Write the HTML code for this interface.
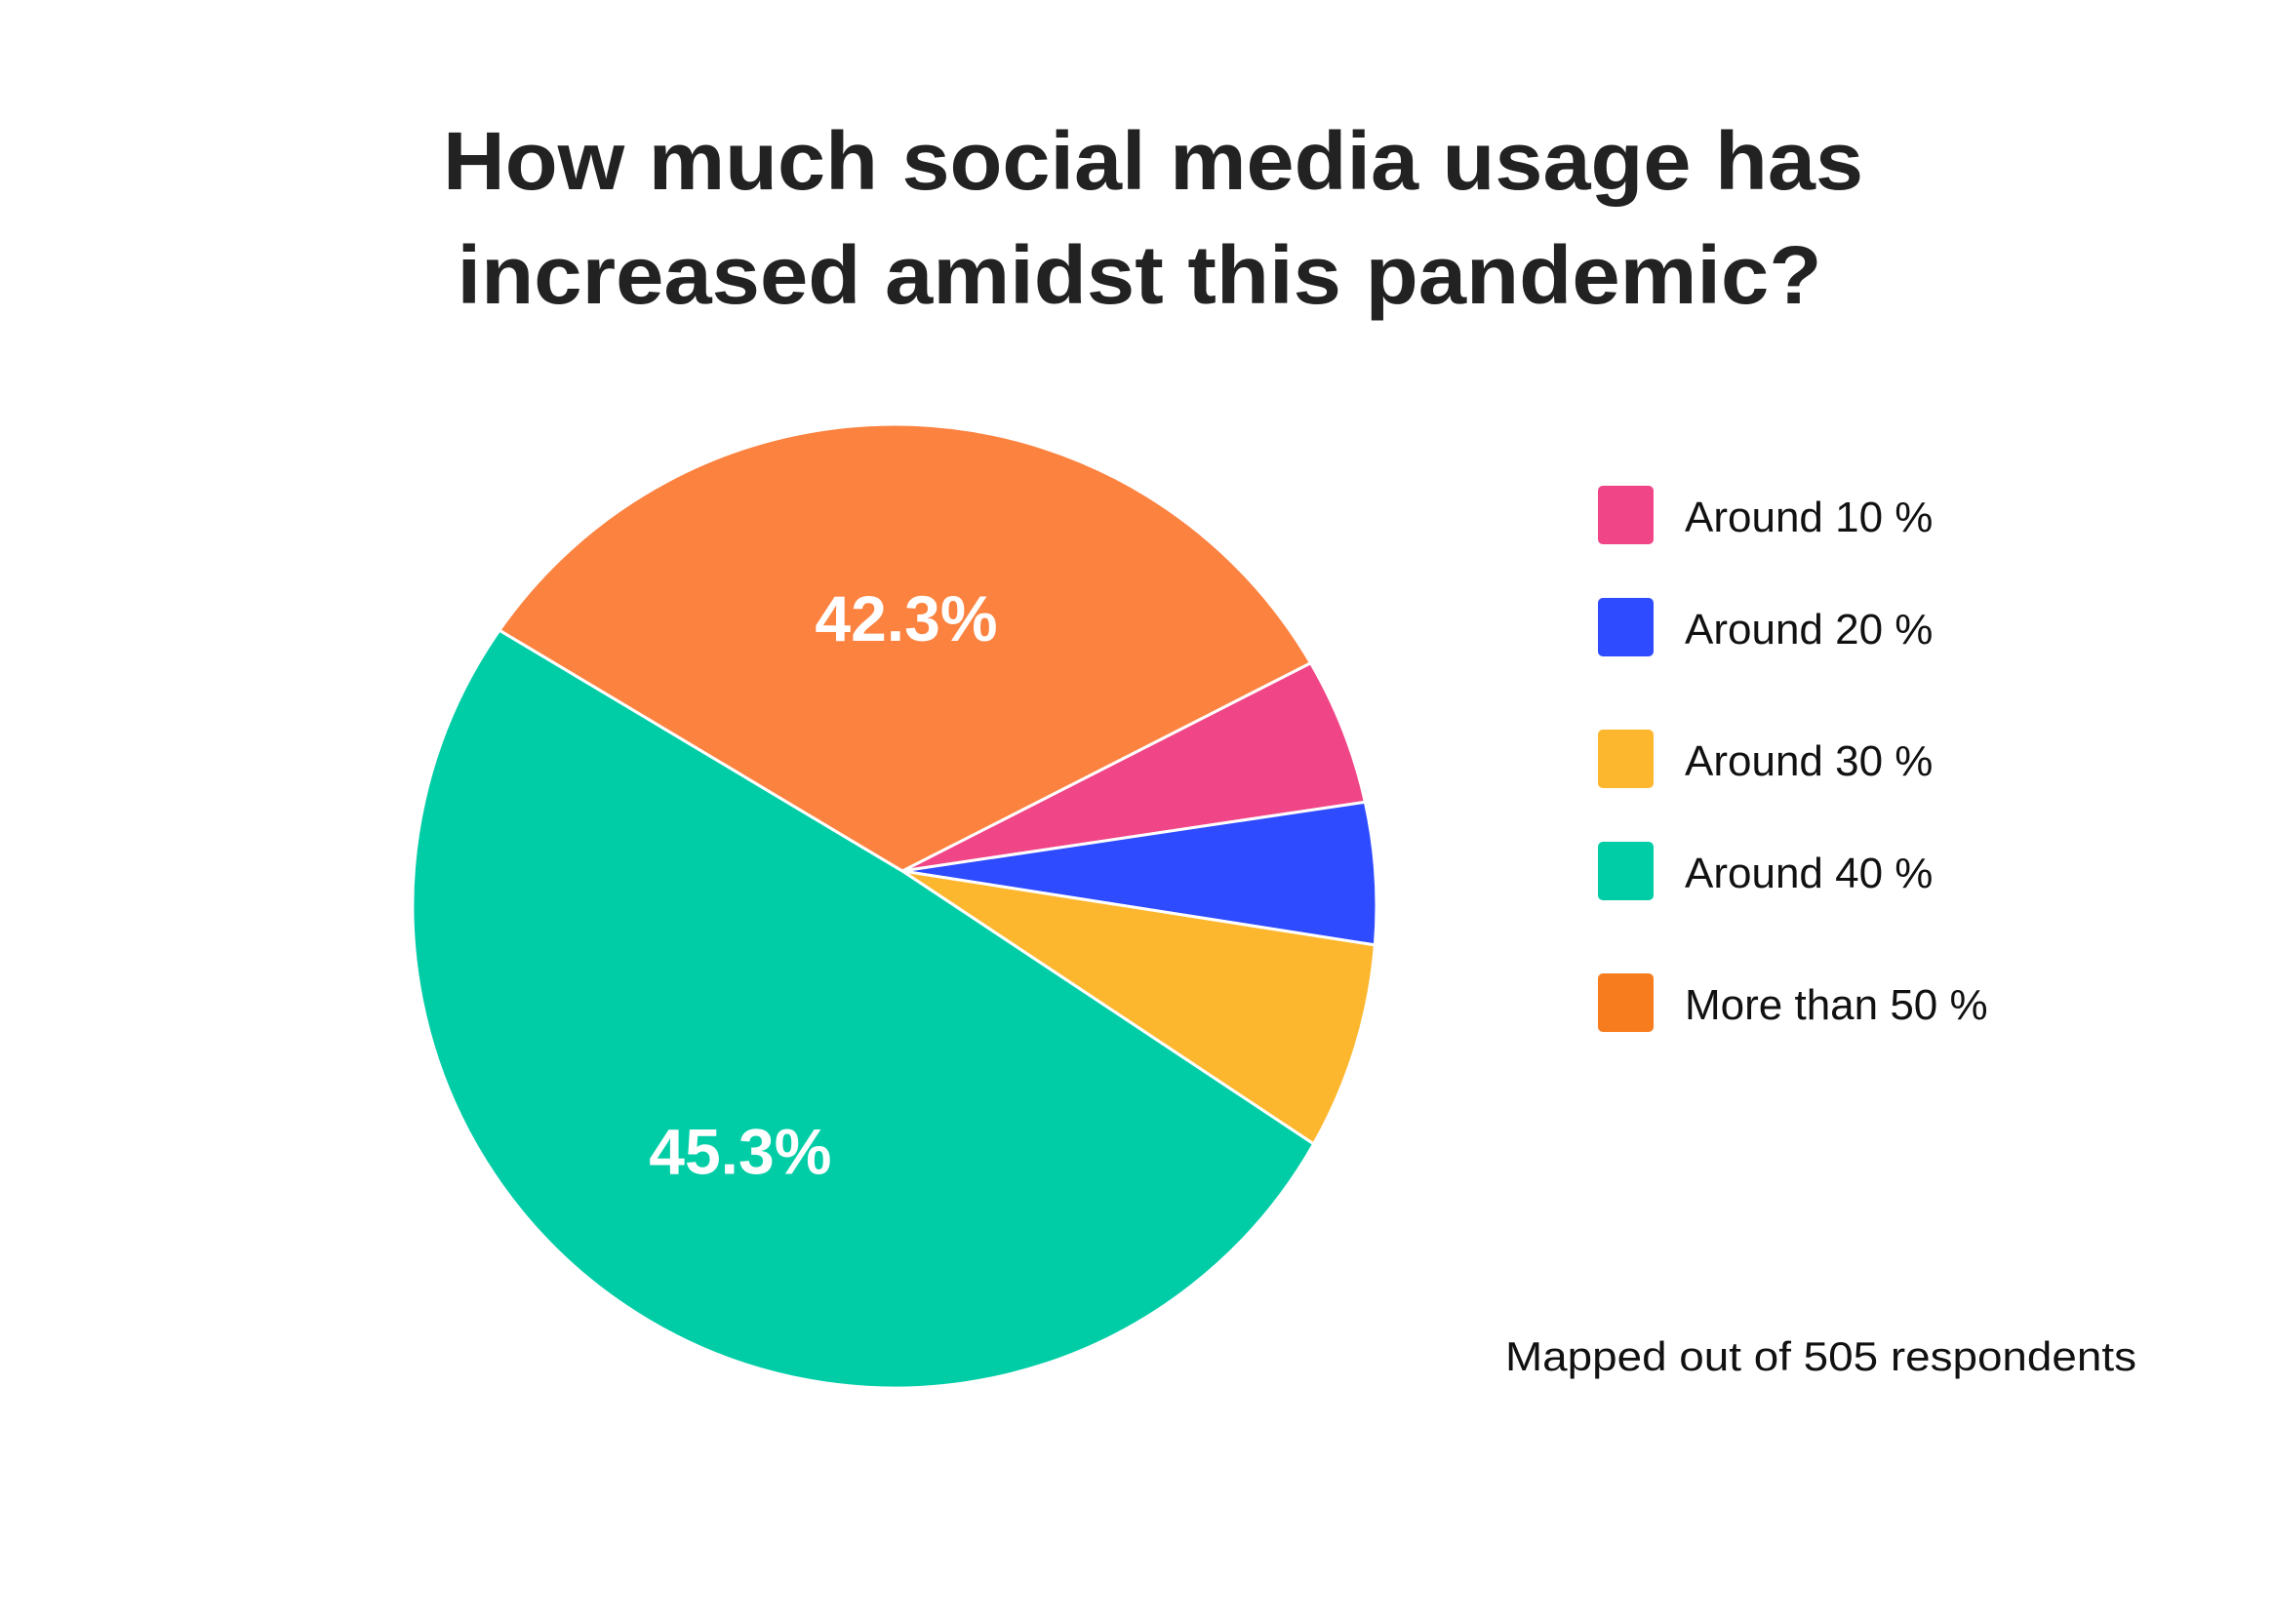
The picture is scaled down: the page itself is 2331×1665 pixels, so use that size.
<!DOCTYPE html>
<html><head><meta charset="utf-8"><style>
html,body{margin:0;padding:0;background:#fff;}
svg{display:block;}
</style></head><body>
<svg id="chart" width="2331" height="1665" viewBox="0 0 2331 1665" xmlns="http://www.w3.org/2000/svg" font-family="Liberation Sans, sans-serif">
<rect width="2331" height="1665" fill="#fff"/>
<text x="1182" y="194" text-anchor="middle" font-size="84" font-weight="bold" fill="#222" textLength="1456" lengthAdjust="spacingAndGlyphs">How much social media usage has</text>
<text x="1168" y="311" text-anchor="middle" font-size="84" font-weight="bold" fill="#222" textLength="1399" lengthAdjust="spacingAndGlyphs">increased amidst this pandemic?</text>
<g id="slices"></g>
<g id="labels"></g>
<g id="legend"></g>
<text x="1543" y="1405" font-size="42" fill="#111" textLength="647" lengthAdjust="spacingAndGlyphs">Mapped out of  505 respondents</text>
</svg>
<script>
const categories = ["Around 10 %", "Around 20 %", "Around 30 %", "Around 40 %", "More than 50 %"];
const values = [25, 24, 35, 260, 161];
const sliceLabels = ["", "", "", "45.3%", "42.3%"];
const colors = ["#F04586", "#2E4BFF", "#FDB72F", "#00CDA6", "#FC823F"];
const legendColors = ["#F04586", "#2E4BFF", "#FDB72F", "#00CDA6", "#F77C1E"];

const NS = "http://www.w3.org/2000/svg";
const cx = 917, cy = 929, r = 494, vx = 925, vy = 893;
const startDeg = -30.3;
const total = values.reduce((a, b) => a + b, 0);
function angleOf(v) { return (startDeg + v / total * 360) * Math.PI / 180; }
function pt(a, rad) { return [cx + rad * Math.cos(a), cy + rad * Math.sin(a)]; }

const gS = document.getElementById('slices');
const gL = document.getElementById('labels');
let cum = 0;
values.forEach((v, i) => {
  const a0 = angleOf(cum), a1 = angleOf(cum + v);
  cum += v;
  const p0 = pt(a0, r), p1 = pt(a1, r);
  const large = (a1 - a0) > Math.PI ? 1 : 0;
  const path = document.createElementNS(NS, 'path');
  path.setAttribute('d', `M${vx},${vy} L${p0[0]},${p0[1]} A${r},${r} 0 ${large} 1 ${p1[0]},${p1[1]} Z`);
  path.setAttribute('fill', colors[i]);
  path.setAttribute('stroke', '#fff');
  path.setAttribute('stroke-width', '3');
  
  
  gS.appendChild(path);
  if (sliceLabels[i]) {
    const am = (a0 + a1) / 2;
    const lp = pt(am, r * 0.6);
    const t = document.createElementNS(NS, 'text');
    t.setAttribute('x', lp[0]);
    t.setAttribute('y', lp[1] + 24);
    t.setAttribute('text-anchor', 'middle');
    t.setAttribute('font-size', '66');
    t.setAttribute('font-weight', 'bold');
    t.setAttribute('fill', '#fff');
    t.textContent = sliceLabels[i];
    
    
    gL.appendChild(t);
  }
});

const legendTops = [498, 613, 748, 863, 998];
const gLeg = document.getElementById('legend');
categories.forEach((c, i) => {
  const g = document.createElementNS(NS, 'g');
  
  
  const rc = document.createElementNS(NS, 'rect');
  rc.setAttribute('x', 1638); rc.setAttribute('y', legendTops[i]);
  rc.setAttribute('width', 57); rc.setAttribute('height', 60);
  rc.setAttribute('rx', 5); rc.setAttribute('fill', legendColors[i]);
  
  
  const t = document.createElementNS(NS, 'text');
  t.setAttribute('x', 1727); t.setAttribute('y', legendTops[i] + 47);
  t.setAttribute('font-size', '44'); t.setAttribute('fill', '#111');
  t.textContent = c;
  
  
  g.appendChild(rc); g.appendChild(t);
  gLeg.appendChild(g);
});
</script>
</body></html>
